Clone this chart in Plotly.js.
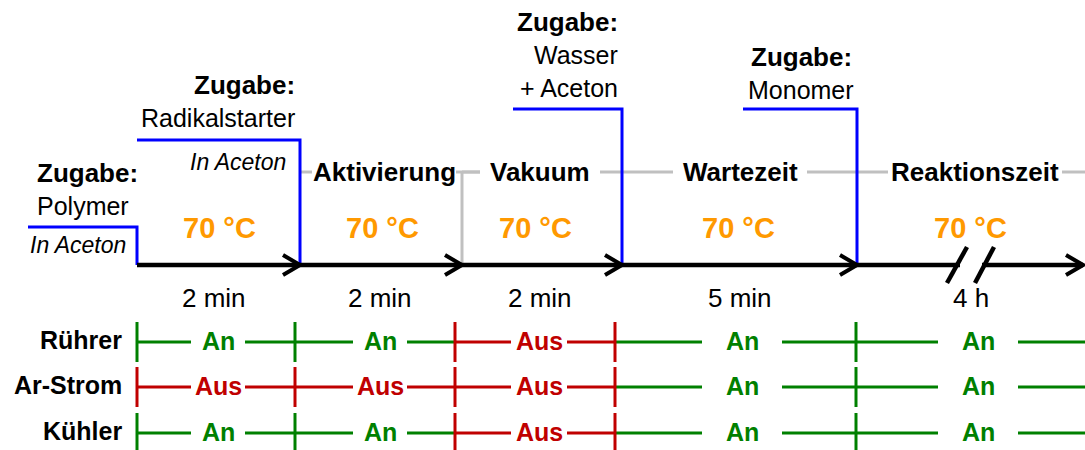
<!DOCTYPE html>
<html>
<head>
<meta charset="utf-8">
<script src="https://cdn.plot.ly/plotly-3.0.1.min.js"></script>
<style>html,body{margin:0;padding:0;background:#fff;}#chart{width:1085px;height:450px;}</style>
</head>
<body>
<div id="chart"></div>
<script>
// ---------- data ----------
const stageNames = ['Aktivierung', 'Vakuum', 'Wartezeit', 'Reaktionszeit'];
const durationLabels = ['2 min', '2 min', '2 min', '5 min', '4 h'];
const temperatureLabels = ['70 °C', '70 °C', '70 °C', '70 °C', '70 °C'];
const additionHeads = ['Zugabe:', 'Zugabe:', 'Zugabe:', 'Zugabe:'];
const additionSubstances = [['Polymer'], ['Radikalstarter'], ['Wasser', '+ Aceton'], ['Monomer']];
const additionSolvents = ['In Aceton', 'In Aceton', '', ''];
const deviceNames = ['Rührer', 'Ar-Strom', 'Kühler'];
const ruehrerStates = ['An', 'An', 'Aus', 'An', 'An'];
const arStromStates = ['Aus', 'Aus', 'Aus', 'An', 'An'];
const kuehlerStates = ['An', 'An', 'Aus', 'An', 'An'];

// ---------- layout geometry (diagram units = px) ----------
const W = 1085, H = 450;
const phaseX = [137, 300, 462, 622, 857, 1083];
const timelineY = 265;
const tempX = [219, 382, 535, 738, 970], tempY = 228;
const durX = [214, 380, 540, 740, 971], durY = 298;
const stageX = [384, 540, 740, 975], stageY = 172, stageGap = [72, 60, 67, 87];
const stageLineStart = 300, vacuumDropIdx = 2;
// additions: text anchor x, alignment, first line y, blue line left x, blue line y, boundary index
const addX = [35, 297, 620, 801];
const addAlign = ['left', 'right', 'right', 'center'];
const addTopY = [173, 85, 22, 57];
const addLineLeft = [28, 137, 513, 743];
const addLineY = [227, 140, 109, 109];
const addDropIdx = [0, 1, 3, 4];
const solventX = [28, 288], solventY = [245, 162], solventAlign = ['left', 'right'];
const lineStep = 33;
// status rows
const statusX = [137, 295, 455, 615, 856, 1085];
const statusLabelX = [218, 380, 539, 742, 978];
const statusGap = [27, 27, 28, 40, 40];
const rowY = [342, 387, 433];
const deviceLabelX = 124;

const GREEN = 'rgb(0,128,0)', RED = 'rgb(192,0,0)', BLUE = '#0000FF', GRAY = '#C0C0C0', ORANGE = '#FF9900';
const FONT = 'Liberation Sans, Arial, Helvetica, sans-serif';

function mk(color, width) { return {x: [], y: [], mode: 'lines', type: 'scatter', hoverinfo: 'skip', line: {color: color, width: width}}; }
function seg(t, x0, y0, x1, y1) { t.x.push(x0, x1, null); t.y.push(y0, y1, null); }

const gray = mk(GRAY, 3), blue = mk(BLUE, 3), black = mk('#000', 4.5), chev = mk('#000', 4);
const gapW = mk('#fff', 9), slash = mk('#000', 4.5), green = mk(GREEN, 3), red = mk(RED, 3);
const annotations = [];
function txt(x, y, text, size, color, anchor, extra) {
  annotations.push(Object.assign({x: x, y: y, xref: 'x', yref: 'y', text: text, showarrow: false,
    xanchor: anchor || 'center', yanchor: 'middle', align: anchor || 'center',
    font: {family: FONT, size: size, color: color || '#000'}}, extra || {}));
}

// gray stage line
let gx = stageLineStart;
stageNames.forEach((s, i) => {
  seg(gray, gx, stageY, stageX[i] - stageGap[i], stageY);
  gx = stageX[i] + stageGap[i];
  txt(stageX[i], stageY, '<b>' + s + '</b>', 26);
});
seg(gray, gx, stageY, W, stageY);
seg(gray, phaseX[vacuumDropIdx], stageY, phaseX[vacuumDropIdx], timelineY);
// fix: Aktivierung line to vacuum drop
seg(gray, phaseX[vacuumDropIdx], stageY, stageX[1] - stageGap[1], stageY);

// timeline
seg(black, phaseX[0], timelineY, phaseX[phaseX.length - 1], timelineY);
phaseX.slice(1).forEach(x => {
  chev.x.push(x - 17, x, x - 17, null); chev.y.push(timelineY - 10, timelineY, timelineY + 10, null);
});
// axis break marks
seg(gapW, 960, timelineY, 982, timelineY);
seg(slash, 947, timelineY + 18, 967, timelineY - 18);
seg(slash, 975, timelineY + 18, 994, timelineY - 18);

// temperatures & durations
temperatureLabels.forEach((t, i) => txt(tempX[i], tempY, '<b>' + t + '</b>', 29, ORANGE));
durationLabels.forEach((d, i) => txt(durX[i], durY, d, 26));

// additions
additionHeads.forEach((h, i) => {
  const dx = phaseX[addDropIdx[i]];
  blue.x.push(addLineLeft[i], dx, dx, null);
  blue.y.push(addLineY[i], addLineY[i], timelineY, null);
  txt(addX[i], addTopY[i], '<b>' + h + '</b>', 26, '#000', addAlign[i]);
  additionSubstances[i].forEach((s, j) => txt(addX[i], addTopY[i] + lineStep * (j + 1), s, 25, '#000', addAlign[i]));
  if (additionSolvents[i]) txt(solventX[i], solventY[i], '<i>' + additionSolvents[i] + '</i>', 23, '#000', solventAlign[i]);
});

// status rows
const rows = [ruehrerStates, arStromStates, kuehlerStates];
rows.forEach((states, r) => {
  const y = rowY[r];
  txt(deviceLabelX, y - 2, '<b>' + deviceNames[r] + '</b>', 25, '#000', 'right');
  states.forEach((s, i) => {
    const t = s === 'Aus' ? red : green;
    seg(t, statusX[i], y, statusLabelX[i] - statusGap[i], y);
    seg(t, statusLabelX[i] + statusGap[i], y, statusX[i + 1], y);
    txt(statusLabelX[i], y - 1, '<b>' + s + '</b>', 25, s === 'Aus' ? RED : GREEN);
  });
  for (let i = 0; i < states.length; i++) {
    const left = i > 0 ? states[i - 1] : states[i];
    const t = (left === 'Aus' || states[i] === 'Aus') ? red : green;
    seg(t, statusX[i], y - 20, statusX[i], y + 20);
  }
});

const data = [gray, blue, black, chev, gapW, slash, green, red];
const layout = {
  width: W, height: H, margin: {l: 0, r: 0, t: 0, b: 0},
  paper_bgcolor: '#fff', plot_bgcolor: '#fff', showlegend: false,
  xaxis: {range: [0, W], visible: false, fixedrange: true},
  yaxis: {range: [H, 0], visible: false, fixedrange: true},
  annotations: annotations
};
Plotly.newPlot('chart', data, layout, {staticPlot: true, displayModeBar: false});
</script>
</body>
</html>
